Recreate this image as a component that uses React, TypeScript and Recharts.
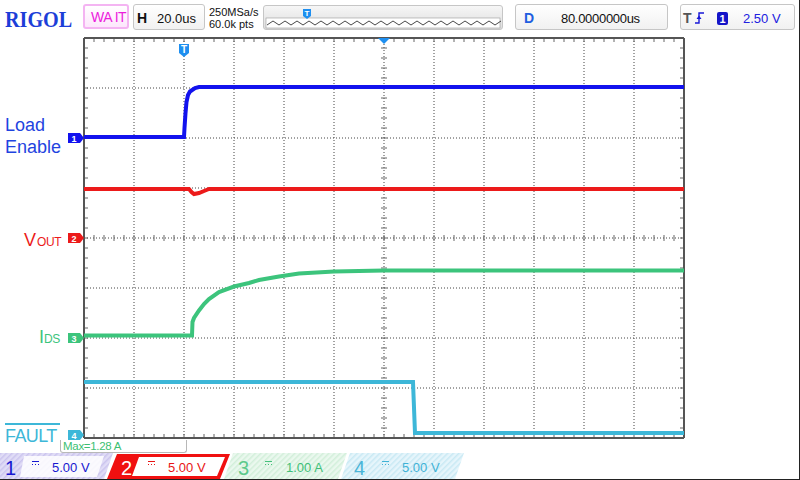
import React from 'react'
import {
  LineChart,
  Line,
  XAxis,
  YAxis,
  CartesianGrid,
  ReferenceLine,
  ReferenceDot,
} from 'recharts'

// horizontal: 20us/div, trigger at 0, delay 80us -> screen spans -40..200 us
// vertical: divisions from screen centre (-4..4)
const timeTicks = [-40, -20, 0, 20, 40, 60, 80, 100, 120, 140, 160, 180, 200]
const divTicks = [-4, -3, -2, -1, 0, 1, 2, 3, 4]

// CH1 Load Enable
const loadTime = [-40, 0, 0.2, 0.6, 1.0, 1.6, 2.4, 4.4, 6, 200]
const loadDiv = [2.02, 2.02, 2.2, 2.5, 2.72, 2.86, 2.93, 3.0, 3.02, 3.02]

// CH2 Vout
const voutTime = [-40, 2, 3, 4, 6, 8, 10, 200]
const voutDiv = [0.98, 0.98, 0.92, 0.88, 0.9, 0.94, 0.98, 0.98]

// CH3 Ids
const idsTime = [-40, 3.2, 3.4, 4, 6, 8, 10, 14, 20, 26, 30, 38, 46, 60, 80, 200]
const idsDiv = [-1.95, -1.95, -1.68, -1.6, -1.45, -1.32, -1.22, -1.08, -0.97, -0.9, -0.84, -0.77, -0.71, -0.67, -0.65, -0.65]

// CH4 Fault
const faultTime = [-40, 91.6, 92.4, 200]
const faultDiv = [-2.88, -2.88, -3.9, -3.9]

// channel offset markers (divisions)
const channelNames = ['1', '2', '3', '4']
const channelOffsets = [2, 0, -2, -3.94]

const BLUE = '#1212ee'
const RED = '#ec1a1a'
const GREEN = '#3cc47c'
const CYAN = '#3db7d8'
const TRIG = '#1e8ff0'
const channelColors = [BLUE, RED, GREEN, CYAN]

const toPoints = (ts: number[], vs: number[]) => ts.map((t, i) => ({ t, v: vs[i] }))

// minor ticks, 5 per division
const minorT = Array.from({ length: 59 }, (_, i) => -36 + i * 4)
const minorD = Array.from({ length: 39 }, (_, i) => -3.8 + i * 0.2)

const SANS = '"Liberation Sans", Arial, sans-serif'

function Txt({ x, y, size, color, bold, serif, spacing, children, style }: any) {
  return (
    <div
      style={{
        position: 'absolute',
        left: x,
        top: y - 0.85 * size,
        fontSize: size,
        lineHeight: `${size}px`,
        color,
        fontWeight: bold ? 700 : 400,
        fontFamily: serif ? '"Liberation Serif", serif' : SANS,
        whiteSpace: 'nowrap',
        letterSpacing: spacing,
        ...style,
      }}
    >
      {children}
    </div>
  )
}

const box = (left: number, top: number, width: number, height: number): React.CSSProperties => ({
  position: 'absolute',
  left,
  top,
  width,
  height,
  boxSizing: 'border-box',
  border: '1px solid #c6c6c6',
  borderRadius: 3,
  background: 'linear-gradient(#ffffff, #f1f1f1)',
})

function ChannelTag({ cx, cy, label, color }: any) {
  return (
    <g>
      <polygon
        points={`${cx - 16},${cy - 5} ${cx - 4},${cy - 5} ${cx},${cy} ${cx - 4},${cy + 5} ${cx - 16},${cy + 5}`}
        fill={color}
      />
      <text x={cx - 10} y={cy + 3.5} fontSize={9} fontWeight={700} fill="#fff" textAnchor="middle" fontFamily={SANS}>
        {label}
      </text>
    </g>
  )
}

function TrigTag({ cx, cy }: any) {
  return (
    <g>
      <polygon
        points={`${cx - 5},${cy + 6} ${cx + 5},${cy + 6} ${cx + 5},${cy + 15} ${cx},${cy + 19} ${cx - 5},${cy + 15}`}
        fill={TRIG}
      />
      <text x={cx} y={cy + 15} fontSize={10} fontWeight={700} fill="#fff" textAnchor="middle" fontFamily={SANS}>
        T
      </text>
    </g>
  )
}

function CentreTag({ cx, cy }: any) {
  return <polygon points={`${cx - 6},${cy} ${cx + 6},${cy} ${cx},${cy + 6}`} fill={TRIG} />
}

function DcSymbol({ x, y, color }: any) {
  return (
    <g fill={color}>
      <rect x={x} y={y} width={7} height={1} />
      <rect x={x} y={y + 3} width={1} height={1} />
      <rect x={x + 3} y={y + 3} width={1} height={1} />
      <rect x={x + 6} y={y + 3} width={1} height={1} />
    </g>
  )
}

function BottomBar() {
  const fontProps = { fontFamily: SANS }
  return (
    <svg width={800} height={27} style={{ position: 'absolute', left: 0, top: 453 }}>
      <defs>
        {[
          ['h1', '#e0dcf6', '#cbc4ee'],
          ['h3', '#eaf8ee', '#d2efda'],
          ['h4', '#e6f5fb', '#c9e9f4'],
        ].map(([id, bg, fg]) => (
          <pattern key={id} id={id} width={4} height={4} patternUnits="userSpaceOnUse" patternTransform="rotate(45)">
            <rect width={4} height={4} fill={bg} />
            <rect width={1.5} height={4} fill={fg} />
          </pattern>
        ))}
      </defs>
      <polygon points="0,0 113,0 104,26 0,26" fill="url(#h1)" />
      <polygon points="24,3 104,3 97,24 20,24" fill="#ffffff" opacity={0.85} />
      <text x={5} y={22} fontSize={20} fill="#1818d0" {...fontProps}>1</text>
      <DcSymbol x={32} y={8} color="#1818d0" />
      <text x={52} y={18.5} fontSize={13} fill="#1818d0" {...fontProps}>5.00 V</text>

      <polygon points="117,1 230,1 220,26 107,26" fill="#f01010" />
      <polygon points="139,4 225,4 217,23 132,23" fill="#ffffff" />
      <text x={121} y={22} fontSize={20} fill="#ffffff" {...fontProps}>2</text>
      <DcSymbol x={148} y={8} color="#e81515" />
      <text x={168} y={18.5} fontSize={13} fill="#e81515" {...fontProps}>5.00 V</text>

      <polygon points="233,0 347,0 338,26 224,26" fill="url(#h3)" />
      <text x={238} y={22} fontSize={20} fill="#5cc98b" {...fontProps}>3</text>
      <DcSymbol x={265} y={8} color="#45c07c" />
      <text x={286} y={18.5} fontSize={13} fill="#3fbf78" {...fontProps}>1.00 A</text>

      <polygon points="350,0 464,0 455,26 341,26" fill="url(#h4)" />
      <text x={354} y={22} fontSize={20} fill="#4ab5d8" {...fontProps}>4</text>
      <DcSymbol x={382} y={8} color="#3fb2d6" />
      <text x={402} y={18.5} fontSize={13} fill="#3fb2d6" {...fontProps}>5.00 V</text>
    </svg>
  )
}

function TopBar() {
  const wave = Array.from({ length: 40 }, (_, i) => `${267 + i * 6},${i % 2 === 0 ? 25 : 21}`).join(' ')
  return (
    <>
      <Txt x={5} y={27} size={24} bold serif color="#1c3ed8" style={{ transform: 'scaleX(0.84)', transformOrigin: 'left' }}>
        RIGOL
      </Txt>
      <div
        style={{
          ...box(83, 4, 46, 25),
          border: '2px solid #f4b4f2',
          background: 'linear-gradient(#ffffff, #fde6fc)',
        }}
      />
      <Txt x={91} y={22} size={14} color="#ec1cdc" spacing={-0.5}>WA IT</Txt>

      <div style={box(133, 4, 72, 26)} />
      <Txt x={137} y={23} size={14} bold color="#111">H</Txt>
      <Txt x={157} y={23} size={13} color="#111">20.0us</Txt>

      <Txt x={209} y={16} size={11} color="#111">250MSa/s</Txt>
      <Txt x={209} y={28} size={11} color="#111">60.0k pts</Txt>

      <div style={{ ...box(263, 5, 240, 25), background: 'linear-gradient(#f6f6f6, #dedede)' }} />

      <div style={box(515, 4, 153, 26)} />
      <Txt x={524} y={23} size={14} bold color="#1f5ee0">D</Txt>
      <Txt x={561} y={23} size={13} color="#111" spacing={-0.3}>80.0000000us</Txt>

      <div style={box(680, 4, 115, 26)} />
      <Txt x={683} y={23} size={14} bold color="#555">T</Txt>
      <Txt x={743} y={23} size={13} color="#2020e0">2.50 V</Txt>

      <svg width={800} height={35} style={{ position: 'absolute', left: 0, top: 0 }}>
        <rect x={266} y={18} width={234} height={10} fill="#ffffff" stroke="#9a9a9a" strokeWidth={0.6} />
        <polyline points={wave} fill="none" stroke="#333" strokeWidth={0.9} />
        <polygon points="303,9 311,9 311,16 307,19 303,16" fill={TRIG} />
        <text x={307} y={16} fontSize={8} fontWeight={700} fill="#fff" textAnchor="middle" fontFamily={SANS}>T</text>
        {/* trigger edge symbol */}
        <path d="M695,23 L699,23 L699,13 L704,13" fill="none" stroke="#1818d8" strokeWidth={1.4} />
        <polygon points="696.5,19 701.5,19 699,15.5" fill="#1818d8" />
        <rect x={717} y={12} width={11} height={13} rx={2} fill="#1414c8" />
        <text x={722.5} y={23} fontSize={11} fontWeight={700} fill="#fff" textAnchor="middle" fontFamily={SANS}>1</text>
      </svg>
    </>
  )
}

export default function App() {
  const load = toPoints(loadTime, loadDiv)
  const vout = toPoints(voutTime, voutDiv)
  const ids = toPoints(idsTime, idsDiv)
  const fault = toPoints(faultTime, faultDiv)
  const tickStroke = '#666'

  return (
    <div
      style={{
        position: 'absolute',
        left: 0,
        top: 0,
        width: 800,
        height: 480,
        background: '#fff',
        overflow: 'hidden',
        fontFamily: SANS,
        boxSizing: 'border-box',
        borderRight: '1px solid #222',
        borderBottom: '1px solid #222',
      }}
    >
      <TopBar />

      <div style={{ position: 'absolute', left: 0, top: 0 }}>
        <LineChart width={800} height={480} margin={{ top: 38, left: 84, right: 116, bottom: 42 }}>
          <XAxis type="number" dataKey="t" domain={[-40, 200]} ticks={timeTicks} hide allowDataOverflow />
          <YAxis type="number" domain={[-4, 4]} ticks={divTicks} hide allowDataOverflow />
          <CartesianGrid stroke="#444" strokeDasharray="1 2" />

          {minorT.map((t) => (
            <ReferenceLine key={`tt${t}`} segment={[{ x: t, y: 4 }, { x: t, y: 3.92 }]} stroke={tickStroke} ifOverflow="visible" />
          ))}
          {minorT.map((t) => (
            <ReferenceLine key={`tb${t}`} segment={[{ x: t, y: -4 }, { x: t, y: -3.92 }]} stroke={tickStroke} ifOverflow="visible" />
          ))}
          {minorT.map((t) => (
            <ReferenceLine key={`tc${t}`} segment={[{ x: t, y: -0.06 }, { x: t, y: 0.06 }]} stroke={tickStroke} ifOverflow="visible" />
          ))}
          {minorD.map((d) => (
            <ReferenceLine key={`dl${d}`} segment={[{ x: -40, y: d }, { x: -38.4, y: d }]} stroke={tickStroke} ifOverflow="visible" />
          ))}
          {minorD.map((d) => (
            <ReferenceLine key={`dr${d}`} segment={[{ x: 200, y: d }, { x: 198.4, y: d }]} stroke={tickStroke} ifOverflow="visible" />
          ))}
          {minorD.map((d) => (
            <ReferenceLine key={`dc${d}`} segment={[{ x: 78.8, y: d }, { x: 81.2, y: d }]} stroke={tickStroke} ifOverflow="visible" />
          ))}

          <ReferenceLine x={-40} stroke="#555" strokeWidth={2} ifOverflow="visible" />
          <ReferenceLine x={200} stroke="#555" strokeWidth={2} ifOverflow="visible" />
          <ReferenceLine y={4} stroke="#555" strokeWidth={2} ifOverflow="visible" />
          <ReferenceLine y={-4} stroke="#555" strokeWidth={2} ifOverflow="visible" />

          <Line data={fault} dataKey="v" type="linear" stroke={CYAN} strokeWidth={4} dot={false} isAnimationActive={false} />
          <Line data={ids} dataKey="v" type="linear" stroke={GREEN} strokeWidth={4} dot={false} isAnimationActive={false} />
          <Line data={vout} dataKey="v" type="linear" stroke={RED} strokeWidth={4} dot={false} isAnimationActive={false} />
          <Line data={load} dataKey="v" type="linear" stroke={BLUE} strokeWidth={4} dot={false} isAnimationActive={false} />

          {channelOffsets.map((d, i) => (
            <ReferenceDot
              key={`ch${i}`}
              x={-40}
              y={d}
              r={0}
              ifOverflow="visible"
              shape={(p: any) => <ChannelTag cx={p.cx} cy={p.cy} label={channelNames[i]} color={channelColors[i]} />}
            />
          ))}
          <ReferenceDot x={0} y={4} r={0} ifOverflow="visible" shape={(p: any) => <TrigTag cx={p.cx} cy={p.cy} />} />
          <ReferenceDot x={80} y={4} r={0} ifOverflow="visible" shape={(p: any) => <CentreTag cx={p.cx} cy={p.cy} />} />
        </LineChart>
      </div>

      {/* channel labels */}
      <Txt x={5} y={131} size={18} color="#1f44e0">Load</Txt>
      <Txt x={5} y={153} size={18} color="#1f44e0">Enable</Txt>
      <Txt x={24} y={246} size={18} color={RED}>V</Txt>
      <Txt x={37} y={246} size={12} color={RED} spacing={-0.4}>OUT</Txt>
      <Txt x={39} y={343} size={18} color={GREEN}>I</Txt>
      <Txt x={44} y={343} size={12} color={GREEN} spacing={-0.4}>DS</Txt>
      <div style={{ position: 'absolute', left: 5, top: 423, width: 55, height: 2, background: CYAN }} />
      <Txt x={5} y={442} size={18} color={CYAN} spacing={-0.6}>FAULT</Txt>

      {/* measurement box */}
      <div
        style={{
          position: 'absolute',
          left: 60,
          top: 440,
          width: 127,
          height: 13,
          boxSizing: 'border-box',
          border: '1px solid #b8b8b8',
          borderTop: 'none',
          borderRadius: '0 0 3px 3px',
          background: '#fff',
        }}
      />
      <Txt x={63} y={451} size={11.5} color="#3cbf72" spacing={-0.3}>Max=1.28 A</Txt>

      <BottomBar />
    </div>
  )
}
